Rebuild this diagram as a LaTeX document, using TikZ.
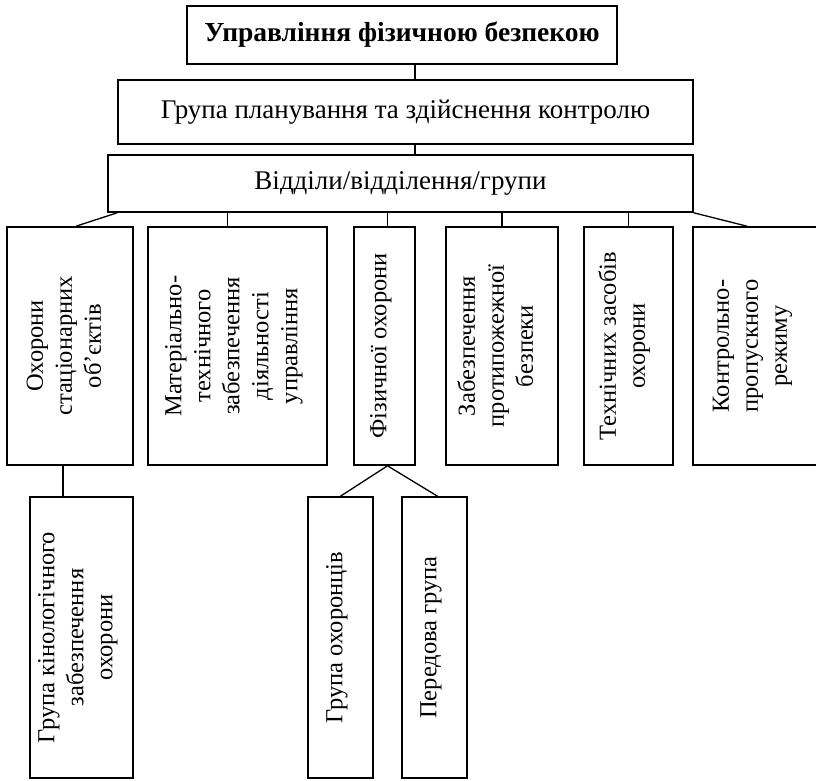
\documentclass[tikz,border=0pt]{standalone}
\usepackage{fontspec}
\setmainfont{Liberation Serif}
\newcommand{\vtxt}[1]{\rotatebox{90}{\begin{tabular}{@{}c@{}}#1\end{tabular}}\hspace{8pt}}
\begin{document}
\begin{tikzpicture}[x=1pt,y=-1pt,
  box/.style={draw, line width=1.6pt, inner sep=0pt, align=center},
  hbox/.style={box, font=\fontsize{27}{31}\selectfont},
  vbox/.style={box, font=\fontsize{24.5}{29}\selectfont},
  vlabel/.style={inner sep=0pt, font=\fontsize{24.5}{29}\selectfont},
  link/.style={line width=1.3pt}]
\clip (0,0) rectangle (816,781);
% top levels
\node[hbox, minimum width=430pt, minimum height=58pt, font=\fontsize{27.5}{31}\selectfont\bfseries] (top) at (402,35) {Управління фізичною безпекою};
\node[hbox, minimum width=575pt, minimum height=64pt] (grp) at (405.5,112) {Група планування та здійснення контролю};
\node[hbox, minimum width=585pt, minimum height=57pt] (dep) at (400.5,183.5) {Відділи/відділення/групи};
% departments
\node[vbox, minimum width=126pt, minimum height=238pt] (A) at (70,346) {\vtxt{Охорони\\стаціонарних\\об’єктів}};
\node[vbox, minimum width=179pt, minimum height=238pt] (B) at (237.5,346) {\vtxt{Матеріально-\\технічного\\забезпечення\\діяльності\\управління}};
\node[vbox, minimum width=61pt, minimum height=238pt] (C) at (384.5,346) {\vtxt{Фізичної охорони}};
\node[vbox, minimum width=112pt, minimum height=238pt] (D) at (502,346) {\vtxt{Забезпечення\\протипожежної\\безпеки}};
\node[vbox, minimum width=89pt, minimum height=238pt] (E) at (628.5,346) {\vtxt{Технічних засобів\\охорони}};
\node[vbox, minimum width=137pt, minimum height=238pt] (F) at (761.5,346) {};
\node[vlabel] (Ft) at (752,346) {\vtxt{Контрольно-\\пропускного\\режиму}};
% sub groups
\node[vbox, minimum width=103pt, minimum height=281pt] (G) at (81.5,637.5) {\vtxt{Група кінологічного\\забезпечення\\охорони}};
\node[vbox, minimum width=65pt, minimum height=281pt] (H) at (340.5,637.5) {\vtxt{Група охоронців}};
\node[vbox, minimum width=65pt, minimum height=281pt] (I) at (434.5,637.5) {\vtxt{Передова група}};
% connectors
\coordinate (spine) at (415,0);
\draw[link] (top.south -| spine) -- (grp.north -| spine);
\draw[link] (grp.south -| spine) -- (dep.north -| spine);
\draw[link] ([xshift=10pt]dep.south west) -- ([xshift=6pt]A.north);
\draw[link] ([xshift=-10pt]B.north) -- ([xshift=-10pt]B.north |- dep.south);
\draw[link] ([xshift=3pt]C.north) -- ([xshift=3pt]C.north |- dep.south);
\draw[link] (D.north) -- (D.north |- dep.south);
\draw[link] (E.north) -- (E.north |- dep.south);
\draw[link] (dep.south east) -- ([xshift=-14.5pt]F.north);
\draw[link] ([xshift=-7pt]A.south) -- ([xshift=-7pt]A.south |- G.north);
\draw[link] ([xshift=3pt]C.south) -- (H.north);
\draw[link] ([xshift=3pt]C.south) -- ([xshift=3pt]I.north);
\end{tikzpicture}
\end{document}
